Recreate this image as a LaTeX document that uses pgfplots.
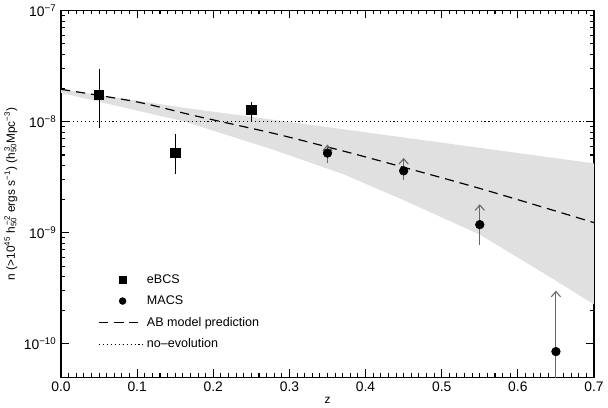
\documentclass[border=0pt]{standalone}
\usepackage{fontspec}
\setmainfont{Liberation Sans}
\usepackage{pgfplots}
\pgfplotsset{compat=1.18}
\usetikzlibrary{arrows.meta}

\newcommand{\hsub}[2]{h\rlap{\textsubscript{#1}}\textsuperscript{\,#2}\kern0.25em}

\begin{document}
\begin{tikzpicture}
\begin{axis}[
  scale only axis,
  width=404pt, height=278pt,
  xmin=0, xmax=0.7,
  ymode=log, ymin=5e-11, ymax=1e-7,
  xtick={0,0.1,0.2,0.3,0.4,0.5,0.6,0.7},
  xticklabels={0.0,0.1,0.2,0.3,0.4,0.5,0.6,0.7},
  minor x tick num=9,
  ytick={1e-10,1e-9,1e-8,1e-7},
  yticklabels={10\textsuperscript{−10},10\textsuperscript{−9},10\textsuperscript{−8},10\textsuperscript{−7}},
  tick align=inside,
  major tick length=6pt, minor tick length=3pt,
  every tick/.style={black, line width=0.8pt},
  axis line style={line width=0.9pt},
  tick label style={font=\fontsize{10.5}{12}\selectfont},
  label style={font=\fontsize{9}{11}\selectfont},
  xlabel={z},
  ylabel={n (>10\textsuperscript{45} \hsub{50}{−2}ergs s\textsuperscript{−1}) (\hsub{50}{3}Mpc\textsuperscript{−3})},
  xlabel style={yshift=3pt},
  ylabel style={yshift=-2pt},
  clip=true,
  legend style={draw=none, fill=none, at={(0.062,0.06)}, anchor=south west,
    font=\fontsize{9.5}{11}\selectfont, row sep=4pt},
  legend cell align=left,
  legend image code/.code={
    \draw[mark repeat=2, mark phase=2] plot coordinates {(0pt,0pt) (18pt,0pt) (34pt,0pt)};
  },
]

% model uncertainty band
\addplot[fill=black!12, draw=none, forget plot] coordinates {
  (0,1.95e-8) (0.162,1.33e-8) (0.372,8.5e-9) (0.7,4.2e-9)
  (0.7,2.26e-10) (0.646,3.84e-10) (0.55,9.6e-10) (0.45,1.96e-9)
  (0.372,3.33e-9) (0.28,5.54e-9) (0.162,1.0e-8) (0,1.81e-8)
} -- cycle;

% no-evolution level
\addplot[black, line width=0.8pt, dash pattern=on 0.8pt off 2.2pt, forget plot]
  coordinates {(0,1e-8) (0.7,1e-8)};

% AB model prediction
\addplot[black, line width=0.9pt, dash pattern=on 7pt off 4.5pt, forget plot, smooth]
  coordinates {(0,1.95e-8) (0.1,1.5e-8) (0.175,1.13e-8) (0.28,7.8e-9)
  (0.35,5.9e-9) (0.41,4.6e-9) (0.55,2.5e-9) (0.7,1.23e-9)};

% eBCS error bars
\addplot[black, line width=0.7pt, forget plot] coordinates {(0.05,8.7e-9) (0.05,2.95e-8)};
\addplot[black, line width=0.7pt, forget plot] coordinates {(0.15,3.4e-9) (0.15,7.8e-9)};
\addplot[black, line width=0.7pt, forget plot] coordinates {(0.25,1.02e-8) (0.25,1.5e-8)};

% MACS error bars, lower limits pointing up
\addplot[black!60, line width=0.8pt, forget plot] coordinates {(0.35,4.2e-9) (0.35,5.2e-9)};
\addplot[black!60, line width=0.8pt, forget plot] coordinates {(0.45,2.95e-9) (0.45,3.6e-9)};
\addplot[black!60, line width=0.8pt, forget plot] coordinates {(0.55,7.8e-10) (0.55,1.18e-9)};
\addplot[black!60, line width=0.8pt, forget plot] coordinates {(0.65,1e-12) (0.65,8.5e-11)};
\addplot[black!60, line width=0.8pt, -{Straight Barb[length=4pt,width=7pt]}, forget plot] coordinates {(0.35,5.2e-9) (0.35,6.2e-9)};
\addplot[black!60, line width=0.8pt, -{Straight Barb[length=4pt,width=7pt]}, forget plot] coordinates {(0.45,3.6e-9) (0.45,4.7e-9)};
\addplot[black!60, line width=0.8pt, -{Straight Barb[length=4pt,width=7pt]}, forget plot] coordinates {(0.55,1.18e-9) (0.55,1.8e-9)};
\addplot[black!60, line width=0.8pt, -{Straight Barb[length=4pt,width=7pt]}, forget plot] coordinates {(0.65,8.5e-11) (0.65,3.0e-10)};

% eBCS
\addplot[only marks, mark=square*, mark size=3.5pt, black, forget plot]
  coordinates {(0.05,1.74e-8) (0.15,5.2e-9) (0.25,1.28e-8)};
% MACS
\addplot[only marks, mark=*, mark size=3.3pt, black, forget plot]
  coordinates {(0.35,5.2e-9) (0.45,3.6e-9) (0.55,1.18e-9) (0.65,8.5e-11)};

\addlegendimage{only marks, mark=square*, mark size=2.6pt, black}
\addlegendentry{eBCS}
\addlegendimage{only marks, mark=*, mark size=2.6pt, black}
\addlegendentry{MACS}
\addlegendimage{black, line width=0.9pt, dash pattern=on 7pt off 4.5pt}
\addlegendentry{AB model prediction}
\addlegendimage{black, line width=0.8pt, dash pattern=on 0.8pt off 2.2pt}
\addlegendentry{no–evolution}

\end{axis}
\end{tikzpicture}
\end{document}
